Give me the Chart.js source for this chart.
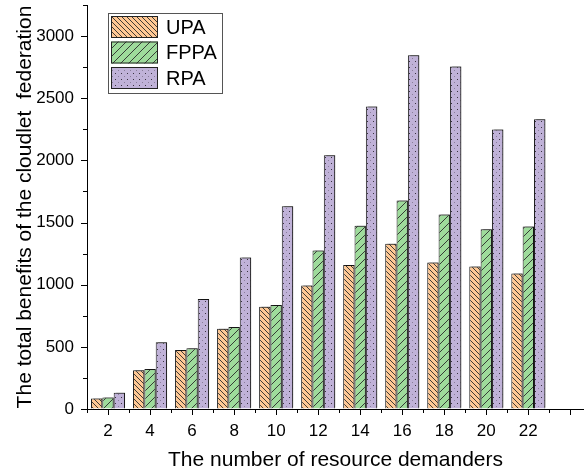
<!DOCTYPE html>
<html>
<head>
<meta charset="utf-8">
<script src="https://cdn.jsdelivr.net/npm/chart.js@4.4.0/dist/chart.umd.min.js"></script>
<style>
  html, body { margin: 0; padding: 0; background: #fff; }
  #wrap { width: 584px; height: 475px; }
</style>
</head>
<body>
<div id="wrap"><canvas id="chart" width="584" height="475"></canvas></div>
<script>
// data
const demanders = [2, 4, 6, 8, 10, 12, 14, 16, 18, 20, 22];
const upa  = [85, 311, 474, 645, 822, 994, 1158, 1329, 1179, 1147, 1091];
const fppa = [93, 321, 488, 659, 836, 1276, 1474, 1677, 1565, 1447, 1469];
const rpa  = [131, 536, 884, 1219, 1632, 2042, 2433, 2846, 2755, 2248, 2331];
const seriesNames = ['UPA', 'FPPA', 'RPA'];

const xTitle = 'The number of resource demanders';
const yTitle = 'The total benefits of the cloudlet  federation';

const FONT = "'Liberation Sans', Arial, sans-serif";
Chart.defaults.font.family = FONT;
Chart.defaults.color = '#000';

// fill patterns like the Origin style hatches
function hatch(base, size, kind) {
  const c = document.createElement('canvas');
  c.width = size; c.height = size;
  const g = c.getContext('2d');
  g.fillStyle = base;
  g.fillRect(0, 0, size, size);
  g.strokeStyle = '#2a2a2a';
  g.lineWidth = 0.9;
  if (kind === 'back') {
    g.beginPath();
    g.moveTo(-1, -1); g.lineTo(size + 1, size + 1);
    g.moveTo(-1, size - 1); g.lineTo(1, size + 1);
    g.moveTo(size - 1, -1); g.lineTo(size + 1, 1);
    g.stroke();
  } else if (kind === 'fwd') {
    g.beginPath();
    g.moveTo(-1, size + 1); g.lineTo(size + 1, -1);
    g.moveTo(-1, 1); g.lineTo(1, -1);
    g.moveTo(size - 1, size + 1); g.lineTo(size + 1, size - 1);
    g.stroke();
  } else {
    g.fillStyle = '#3a3340';
    g.fillRect(1, 1, 1, 1);
    g.fillStyle = '#8a7f9a';
    g.fillRect(4, 4, 1, 1);
  }
  return g.createPattern(c, 'repeat');
}

const fills = [
  hatch('#ffc894', 5, 'back'),
  hatch('#9edb9b', 8, 'fwd'),
  hatch('#c0b2d8', 6, 'dots')
];

function pairs(vals) {
  return demanders.map((d, i) => ({ x: d, y: vals[i] }));
}

// short/long tick marks and the box legend
const decor = {
  id: 'decor',
  beforeDatasetsDraw(chart) {
    const ctx = chart.ctx;
    ctx.save();
    ctx.shadowColor = 'rgba(0,0,0,0.4)';
    ctx.shadowOffsetX = 2;
    ctx.shadowOffsetY = -1;
    ctx.shadowBlur = 1;
  },
  afterDatasetsDraw(chart) {
    chart.ctx.restore();
  },
  afterDraw(chart) {
    const ctx = chart.ctx;
    const x = chart.scales.x, y = chart.scales.y;
    const area = chart.chartArea;
    ctx.save();
    ctx.strokeStyle = '#000';
    ctx.lineWidth = 1;
    ctx.beginPath();
    for (let v = Math.ceil(x.min); v <= Math.floor(x.max); v++) {
      const px = Math.round(x.getPixelForValue(v)) + 0.5;
      const len = v % 2 === 0 ? 6 : 4;
      ctx.moveTo(px, area.bottom);
      ctx.lineTo(px, area.bottom + len);
    }
    for (let v = 0; v <= y.max; v += 250) {
      const py = Math.round(y.getPixelForValue(v)) + 0.5;
      const len = v % 500 === 0 ? 6 : 4;
      ctx.moveTo(area.left, py);
      ctx.lineTo(area.left - len, py);
    }
    ctx.stroke();

    // legend
    const lx = area.left + 21, ly = area.top + 8;
    ctx.fillStyle = '#fff';
    ctx.fillRect(lx, ly, 114, 80);
    ctx.strokeStyle = '#555';
    ctx.strokeRect(lx + 0.5, ly + 0.5, 114, 80);
    ctx.font = '20px ' + FONT;
    ctx.textBaseline = 'middle';
    chart.data.datasets.forEach((ds, i) => {
      const sy = ly + 3 + i * 25.5;
      ctx.fillStyle = ds.backgroundColor;
      ctx.fillRect(lx + 3, sy, 47, 22);
      ctx.strokeStyle = '#222';
      ctx.strokeRect(lx + 3.5, sy + 0.5, 46, 21);
      ctx.fillStyle = '#000';
      ctx.fillText(ds.label, lx + 58, sy + 12);
    });
    ctx.restore();
  }
};

new Chart(document.getElementById('chart'), {
  type: 'bar',
  data: {
    datasets: [
      { label: seriesNames[0], data: pairs(upa),  backgroundColor: fills[0] },
      { label: seriesNames[1], data: pairs(fppa), backgroundColor: fills[1] },
      { label: seriesNames[2], data: pairs(rpa),  backgroundColor: fills[2] }
    ].map(d => Object.assign(d, {
      borderColor: '#1e1e1e', borderWidth: 1,
      categoryPercentage: 0.81, barPercentage: 1.0
    }))
  },
  options: {
    responsive: false,
    animation: false,
    layout: { padding: { top: 5, right: 0, left: 0, bottom: 0 } },
    plugins: { legend: { display: false }, tooltip: { enabled: false } },
    scales: {
      x: {
        type: 'linear',
        offset: false,
        min: 1, max: 24.65,
        afterFit(s) { s.height = 66; s.paddingLeft = 0; s.paddingRight = 0; },
        grid: { drawOnChartArea: false, tickLength: 6, tickColor: 'rgba(0,0,0,0)', offset: false },
        border: { display: true, color: '#000', width: 1 },
        ticks: {
          stepSize: 2, autoSkip: false, maxRotation: 0, includeBounds: false,
          padding: 6, font: { size: 17 },
          callback: v => (v >= 2 && v <= 22) ? String(v) : null
        },
        title: { display: true, text: xTitle, font: { size: 21 }, padding: { top: 0, bottom: 2 } }
      },
      y: {
        min: 0, max: 3250,
        afterFit(s) { s.width = 87; s.paddingTop = 0; s.paddingBottom = 0; },
        grid: { drawOnChartArea: false, tickLength: 6, tickColor: 'rgba(0,0,0,0)' },
        border: { display: true, color: '#000', width: 1 },
        ticks: {
          stepSize: 250, autoSkip: false, padding: 7, font: { size: 17 },
          callback: v => v % 500 === 0 ? String(v) : null
        },
        title: { display: true, text: yTitle, font: { size: 21 }, padding: { top: 13, bottom: 0 } }
      }
    }
  },
  plugins: [decor]
});
</script>
</body>
</html>
